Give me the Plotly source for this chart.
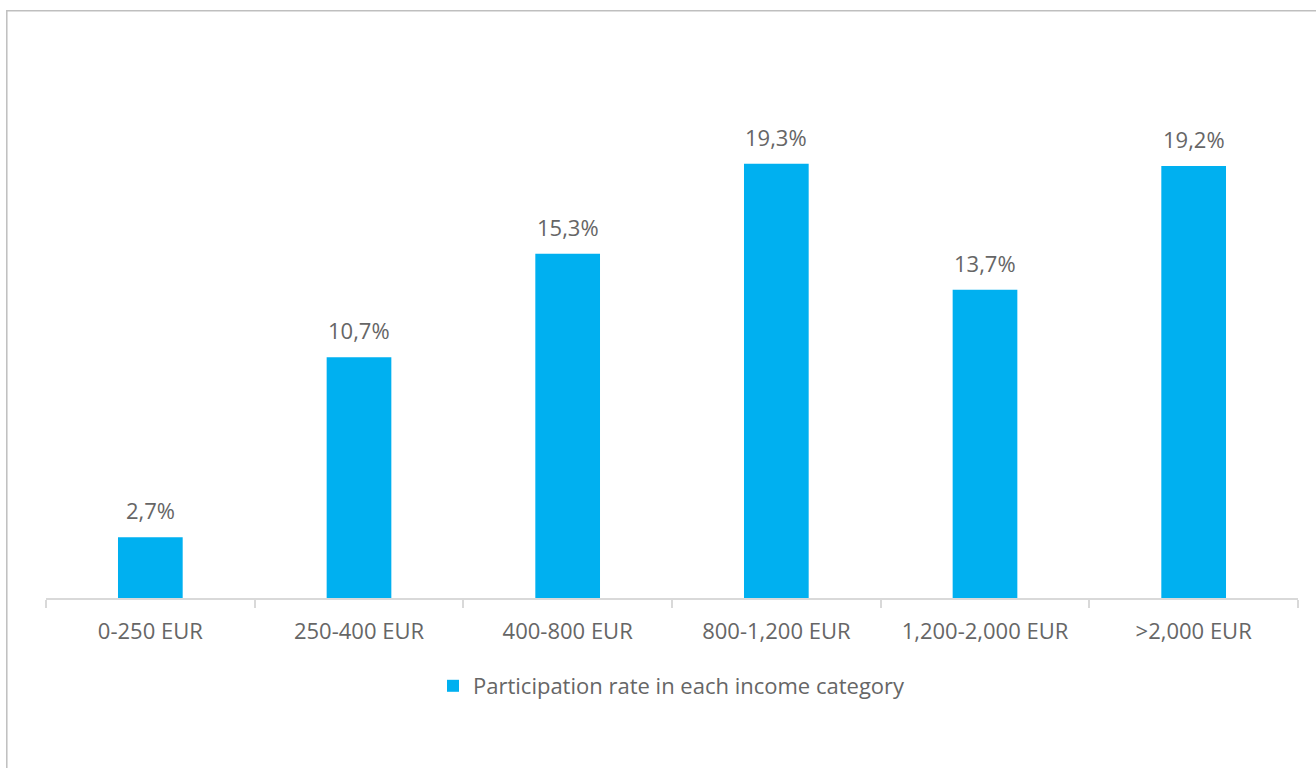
import plotly.graph_objects as go

categories = ["0-250 EUR", "250-400 EUR", "400-800 EUR", "800-1,200 EUR", "1,200-2,000 EUR", ">2,000 EUR"]
participation = [2.7, 10.7, 15.3, 19.3, 13.7, 19.2]
value_labels = ["2,7%", "10,7%", "15,3%", "19,3%", "13,7%", "19,2%"]
series_name = "Participation rate in each income category"

W, H = 1316, 768
L, R, T, B = 46, 18, 148, 170
FONT = "Open Sans"
GRAY = "#666666"

fig = go.Figure()
fig.add_trace(go.Bar(
    x=categories,
    y=participation,
    name=series_name,
    marker=dict(color="#00B0F0", line=dict(width=0)),
    showlegend=True,
))

# value labels above each bar
for cat, val, lab in zip(categories, participation, value_labels):
    fig.add_annotation(
        x=cat, y=val, text=lab, showarrow=False,
        yanchor="bottom", yshift=10,
        font=dict(family=FONT, size=22, color=GRAY),
    )

# outer chart frame (right and bottom edges fall outside the page)
pw, ph = W - L - R, H - T - B
def px_x(v):
    return (v - L) / pw
def px_y(v):
    return (H - B - v) / ph

fig.add_shape(
    type="rect", xref="paper", yref="paper",
    x0=px_x(6.8), x1=px_x(1340), y0=px_y(790), y1=px_y(10.8),
    line=dict(color="#BFBFBF", width=1.5), fillcolor="rgba(0,0,0,0)",
    layer="below",
)

fig.update_layout(
    width=W, height=H,
    margin=dict(l=L, r=R, t=T, b=B),
    paper_bgcolor="white", plot_bgcolor="white",
    bargap=0.69,
    font=dict(family=FONT, color=GRAY),
    legend=dict(
        orientation="h", x=0.5, xanchor="center", y=px_y(686), yanchor="middle",
        font=dict(family=FONT, size=22, color=GRAY),
        itemwidth=30,
    ),
    xaxis=dict(
        showline=True, linecolor="#D9D9D9", linewidth=1.5,
        ticks="outside", tickson="boundaries", ticklen=8, tickcolor="#D9D9D9", tickwidth=1.5,
        tickfont=dict(family=FONT, size=22, color=GRAY),
        ticklabelstandoff=13,
        showgrid=False, zeroline=False,
    ),
    yaxis=dict(
        range=[0, 20], visible=False, showgrid=False, zeroline=False,
    ),
)

fig.write_html("out.html")
